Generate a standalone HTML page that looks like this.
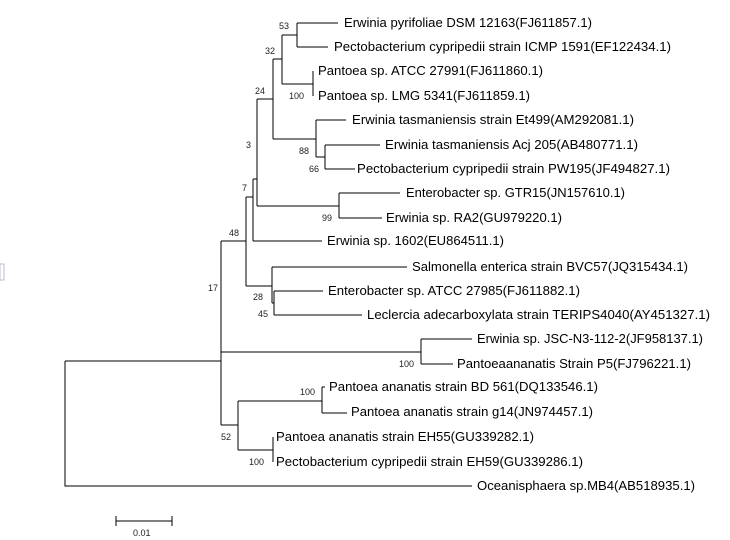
<!DOCTYPE html>
<html><head><meta charset="utf-8"><style>
html,body{margin:0;padding:0;background:#fff;width:730px;height:540px;overflow:hidden}
svg text{font-family:"Liberation Sans",Arial,sans-serif}
.t{font-size:12.5px;fill:#000}
.b{font-size:9px;fill:#222}
</style></head><body>
<svg width="730" height="540" viewBox="0 0 730 540" xmlns="http://www.w3.org/2000/svg">
<g stroke="#000" stroke-width="1.2" fill="none" shape-rendering="crispEdges">
<path d="M65 361V486H472M65 361H221"/>
<path d="M221 241V425M221 241H246M221 352H421M221 425H238"/>
<path d="M246 197V286M246 197H253M246 286H272"/>
<path d="M253 179V241M253 179H257M253 241H322"/>
<path d="M257 99V206M257 99H273M257 206H339"/>
<path d="M273 59V139M273 59H282M273 139H316"/>
<path d="M282 35V84M282 35H297M282 84H313"/>
<path d="M297 23V47M297 23H338M297 47H328"/>
<path d="M313 71V96"/>
<path d="M316 120V157M316 120H346M316 157H325M325 145V169M325 145H380M325 169H355"/>
<path d="M339 193V218M339 193H400M339 218H382"/>
<path d="M272 267V303M272 267H407M272 303H274M274 291V315M274 291H323M274 315H362"/>
<path d="M421 339V364M421 339H472M421 364H453"/>
<path d="M238 401V450M238 401H322M322 387V413M322 387H325M322 413H347M238 450H273M273 437V462"/>
<path d="M116 521H172M116 516V526M172 516V526"/>
</g>
<g class="t">
<text x="344" y="27" textLength="248" lengthAdjust="spacingAndGlyphs">Erwinia pyrifoliae DSM 12163(FJ611857.1)</text>
<text x="334" y="51" textLength="337" lengthAdjust="spacingAndGlyphs">Pectobacterium cypripedii strain ICMP 1591(EF122434.1)</text>
<text x="318" y="75" textLength="225" lengthAdjust="spacingAndGlyphs">Pantoea sp. ATCC 27991(FJ611860.1)</text>
<text x="318" y="100" textLength="212" lengthAdjust="spacingAndGlyphs">Pantoea sp. LMG 5341(FJ611859.1)</text>
<text x="352" y="124" textLength="282" lengthAdjust="spacingAndGlyphs">Erwinia tasmaniensis strain Et499(AM292081.1)</text>
<text x="385" y="149" textLength="253" lengthAdjust="spacingAndGlyphs">Erwinia tasmaniensis Acj 205(AB480771.1)</text>
<text x="357" y="173" textLength="313" lengthAdjust="spacingAndGlyphs">Pectobacterium cypripedii strain PW195(JF494827.1)</text>
<text x="406" y="197" textLength="219" lengthAdjust="spacingAndGlyphs">Enterobacter sp. GTR15(JN157610.1)</text>
<text x="386" y="222" textLength="176" lengthAdjust="spacingAndGlyphs">Erwinia sp. RA2(GU979220.1)</text>
<text x="327" y="245" textLength="177" lengthAdjust="spacingAndGlyphs">Erwinia sp. 1602(EU864511.1)</text>
<text x="412" y="271" textLength="276" lengthAdjust="spacingAndGlyphs">Salmonella enterica strain BVC57(JQ315434.1)</text>
<text x="328" y="295" textLength="252" lengthAdjust="spacingAndGlyphs">Enterobacter sp. ATCC 27985(FJ611882.1)</text>
<text x="367" y="319" textLength="343" lengthAdjust="spacingAndGlyphs">Leclercia adecarboxylata strain TERIPS4040(AY451327.1)</text>
<text x="477" y="343" textLength="226" lengthAdjust="spacingAndGlyphs">Erwinia sp. JSC-N3-112-2(JF958137.1)</text>
<text x="457" y="368" textLength="234" lengthAdjust="spacingAndGlyphs">Pantoeaananatis Strain P5(FJ796221.1)</text>
<text x="329" y="391" textLength="269" lengthAdjust="spacingAndGlyphs">Pantoea ananatis strain BD 561(DQ133546.1)</text>
<text x="351" y="416" textLength="242" lengthAdjust="spacingAndGlyphs">Pantoea ananatis strain g14(JN974457.1)</text>
<text x="276" y="441" textLength="258" lengthAdjust="spacingAndGlyphs">Pantoea ananatis strain EH55(GU339282.1)</text>
<text x="276" y="466" textLength="307" lengthAdjust="spacingAndGlyphs">Pectobacterium cypripedii strain EH59(GU339286.1)</text>
<text x="477" y="490" textLength="218" lengthAdjust="spacingAndGlyphs">Oceanisphaera sp.MB4(AB518935.1)</text>
</g>
<g class="b">
<text x="279" y="29">53</text>
<text x="265" y="54">32</text>
<text x="289" y="99">100</text>
<text x="255" y="94">24</text>
<text x="299" y="154">88</text>
<text x="309" y="172">66</text>
<text x="246" y="148">3</text>
<text x="322" y="221">99</text>
<text x="242" y="191">7</text>
<text x="229" y="236">48</text>
<text x="208" y="291">17</text>
<text x="253" y="300">28</text>
<text x="258" y="317">45</text>
<text x="399" y="367">100</text>
<text x="300" y="395">100</text>
<text x="221" y="440">52</text>
<text x="249" y="465">100</text>
<text x="133" y="536">0.01</text>
</g>
<rect x="0" y="264" width="4" height="16" fill="none" stroke="#bbc" stroke-width="1"/>
</svg>
</body></html>
